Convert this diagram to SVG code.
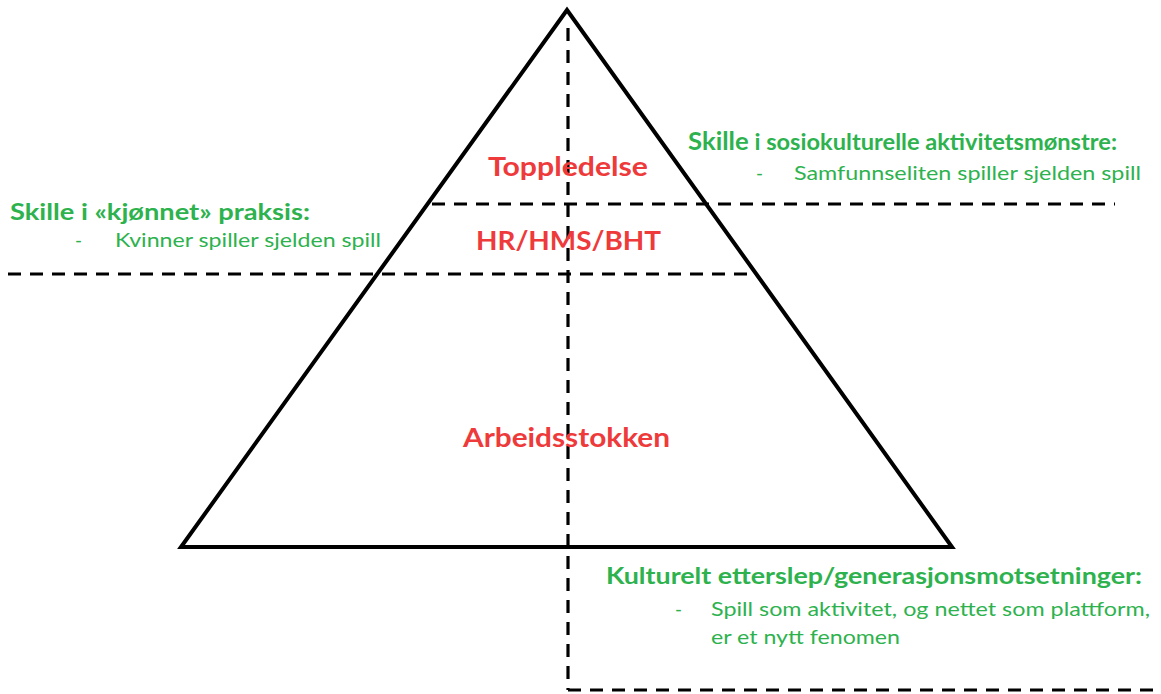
<svg xmlns="http://www.w3.org/2000/svg" width="1161" height="694" viewBox="0 0 1161 694">
<style>
.dash{fill:none;stroke:#000;stroke-width:3.2;stroke-dasharray:13 9}
.tri{fill:none;stroke:#000;stroke-width:4;stroke-linejoin:miter}
.red{font-family:Lato,"Liberation Sans",sans-serif;font-weight:bold;fill:#ee3a3b;font-size:26px}
.gh{font-family:Lato,"Liberation Sans",sans-serif;font-weight:bold;fill:#2db24e;font-size:23px}
.gt{font-family:Lato,"Liberation Sans",sans-serif;fill:#2db24e;font-size:19px}
</style>
<rect width="1161" height="694" fill="#fff"/>
<g id="pyramid">
<polygon class="tri" points="567,10 181,547 952,547"/>
</g>
<g id="connectors">
<line class="dash" x1="568" y1="28" x2="568" y2="690"/>
<line class="dash" x1="568" y1="690" x2="1161" y2="690"/>
<line class="dash" x1="432" y1="204" x2="1115" y2="204"/>
<line class="dash" x1="8" y1="274" x2="752" y2="274"/>
</g>
<g id="levels">
<text class="red" x="488" y="176" textLength="160" lengthAdjust="spacingAndGlyphs">Toppledelse</text>
<text class="red" x="476" y="250" textLength="185" lengthAdjust="spacingAndGlyphs">HR/HMS/BHT</text>
<text class="red" x="463" y="447" textLength="207" lengthAdjust="spacingAndGlyphs">Arbeidsstokken</text>
</g>
<g id="note-gender">
<text class="gh" x="10" y="220" textLength="300" lengthAdjust="spacingAndGlyphs">Skille i «kjønnet» praksis:</text>
<text class="gt" x="75" y="247">-</text>
<text class="gt" x="115" y="247" textLength="266" lengthAdjust="spacingAndGlyphs">Kvinner spiller sjelden spill</text>
</g>
<g id="note-socio">
<text class="gh" x="688" y="150" textLength="429" lengthAdjust="spacingAndGlyphs"><tspan font-size="25px">Skille</tspan> i sosiokulturelle aktivitetsmønstre:</text>
<text class="gt" x="756" y="180">-</text>
<text class="gt" x="794" y="180" textLength="347" lengthAdjust="spacingAndGlyphs">Samfunnseliten spiller sjelden spill</text>
</g>
<g id="note-culture">
<text class="gh" x="606" y="584" textLength="536" lengthAdjust="spacingAndGlyphs">Kulturelt etterslep/generasjonsmotsetninger:</text>
<text class="gt" x="675" y="616">-</text>
<text class="gt" x="711" y="616" textLength="439" lengthAdjust="spacingAndGlyphs">Spill som aktivitet, og nettet som plattform,</text>
<text class="gt" x="711" y="644" textLength="189" lengthAdjust="spacingAndGlyphs">er et nytt fenomen</text>
</g>
</svg>
